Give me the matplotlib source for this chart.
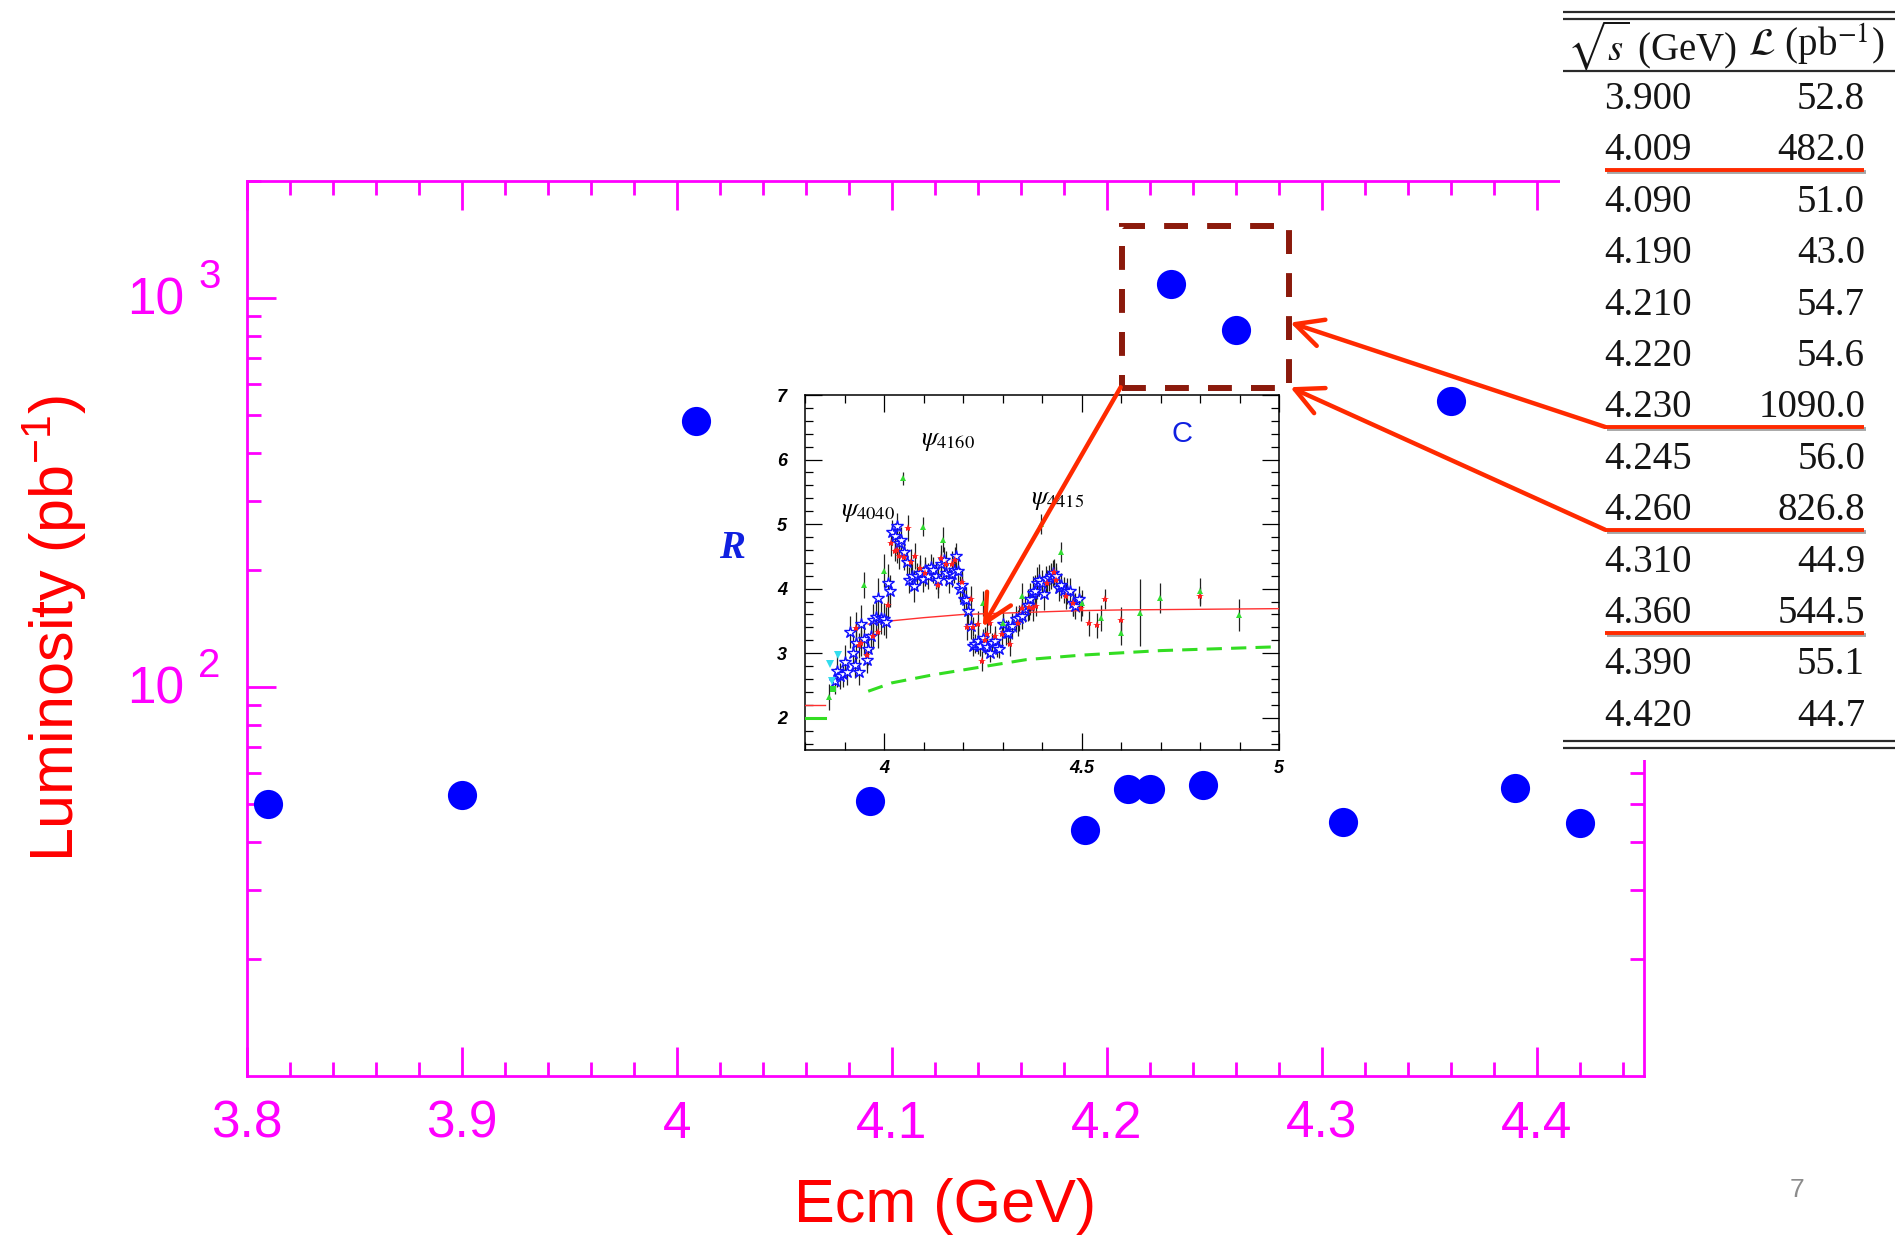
import matplotlib.pyplot as plt
import matplotlib.patheffects as pe
import numpy as np
from matplotlib.patches import Rectangle, ConnectionPatch
from matplotlib.ticker import (FixedLocator, MultipleLocator, LogLocator,
                               FuncFormatter, NullFormatter)

# luminosity table (sqrt(s) in GeV, integrated luminosity in pb^-1)
table_ecm = [3.900, 4.009, 4.090, 4.190, 4.210, 4.220, 4.230, 4.245, 4.260,
             4.310, 4.360, 4.390, 4.420]
table_lum = [52.8, 482.0, 51.0, 43.0, 54.7, 54.6, 1090.0, 56.0, 826.8,
             44.9, 544.5, 55.1, 44.7]
highlighted = [4.009, 4.230, 4.260, 4.360]
# scan point shown on the plot but not listed in the table
extra_ecm = [3.810]
extra_lum = [50.0]
lum_major = [100, 1000]

# R-value measurements for the inset
blue_x = [3.875, 3.882, 3.888, 3.896, 3.902, 3.907, 3.914, 3.921, 3.926, 3.930,
          3.936, 3.942, 3.949, 3.956, 3.960, 3.966, 3.973, 3.980, 3.986, 3.992,
          3.999, 4.005, 4.009, 4.014, 4.021, 4.027, 4.033, 4.039, 4.044, 4.050,
          4.057, 4.064, 4.070, 4.077, 4.084, 4.091, 4.098, 4.104, 4.111, 4.118,
          4.124, 4.131, 4.137, 4.145, 4.151, 4.158, 4.164, 4.171, 4.177, 4.182,
          4.187, 4.193, 4.198, 4.203, 4.208, 4.213, 4.219, 4.226, 4.231, 4.237,
          4.244, 4.250, 4.256, 4.262, 4.268, 4.274, 4.280, 4.286, 4.292, 4.301,
          4.309, 4.315, 4.325, 4.335, 4.342, 4.350, 4.357, 4.364, 4.370, 4.376,
          4.383, 4.388, 4.393, 4.400, 4.405, 4.410, 4.417, 4.422, 4.428, 4.436,
          4.442, 4.447, 4.455, 4.463, 4.471, 4.478, 4.484, 4.494]
blue_y = [2.57, 2.73, 2.65, 2.68, 2.87, 2.71, 3.33, 3.01, 2.81, 3.16,
          2.71, 3.45, 3.22, 2.90, 3.07, 3.27, 3.51, 3.56, 3.86, 3.55,
          3.53, 3.48, 4.08, 3.96, 4.87, 4.82, 4.97, 4.70, 4.75, 4.57,
          4.42, 4.14, 4.20, 4.04, 4.19, 4.25, 4.15, 4.29, 4.19, 4.34,
          4.29, 4.20, 4.13, 4.38, 4.44, 4.24, 4.14, 4.22, 4.29, 4.51,
          4.27, 3.99, 4.05, 3.84, 3.83, 3.65, 3.42, 3.11, 3.15, 3.19,
          3.11, 3.23, 3.14, 3.09, 3.01, 3.16, 3.19, 3.09, 3.07, 3.45,
          3.32, 3.32, 3.42, 3.53, 3.55, 3.57, 3.69, 3.75, 3.84, 3.94,
          3.96, 4.09, 4.13, 4.09, 3.92, 4.15, 4.16, 4.19, 4.24, 4.20,
          4.01, 4.05, 3.98, 3.96, 3.96, 3.78, 3.73, 3.84]
blue_err = [0.20, 0.25, 0.20, 0.20, 0.25, 0.20, 0.25, 0.25, 0.20, 0.30,
            0.20, 0.30, 0.25, 0.20, 0.25, 0.25, 0.25, 0.25, 0.30, 0.25,
            0.25, 0.25, 0.30, 0.25, 0.20, 0.20, 0.20, 0.20, 0.20, 0.20,
            0.20, 0.20, 0.20, 0.25, 0.20, 0.20, 0.20, 0.20, 0.20, 0.20,
            0.20, 0.20, 0.20, 0.20, 0.20, 0.20, 0.20, 0.20, 0.20, 0.20,
            0.20, 0.20, 0.20, 0.20, 0.20, 0.20, 0.20, 0.15, 0.15, 0.20,
            0.15, 0.15, 0.15, 0.15, 0.15, 0.15, 0.15, 0.15, 0.15, 0.20,
            0.20, 0.20, 0.20, 0.20, 0.20, 0.20, 0.20, 0.25, 0.25, 0.25,
            0.25, 0.25, 0.25, 0.20, 0.25, 0.20, 0.20, 0.20, 0.20, 0.20,
            0.20, 0.20, 0.20, 0.20, 0.20, 0.20, 0.20, 0.20]

red_x = [3.930, 3.936, 3.942, 3.956, 3.973, 3.986, 4.009, 4.018, 4.027, 4.033,
         4.039, 4.050, 4.060, 4.068, 4.079, 4.091, 4.104, 4.137, 4.145, 4.158,
         4.171, 4.180, 4.197, 4.209, 4.219, 4.226, 4.238, 4.248, 4.255, 4.262,
         4.269, 4.280, 4.298, 4.318, 4.338, 4.349, 4.368, 4.378, 4.386, 4.412,
         4.431, 4.436, 4.460, 4.479, 4.499, 4.520, 4.539, 4.559, 4.600, 4.799]
red_y = [3.39, 3.12, 3.16, 2.97, 3.26, 3.33, 3.75, 4.70, 4.58, 4.60,
         4.50, 4.49, 4.94, 4.41, 4.51, 4.32, 4.24, 4.06, 4.47, 4.38,
         4.38, 4.45, 4.11, 3.41, 3.84, 3.41, 3.45, 2.88, 3.21, 3.29,
         3.47, 3.27, 3.30, 3.15, 3.47, 3.70, 3.72, 3.70, 3.73, 4.09,
         4.26, 4.13, 3.88, 3.77, 3.70, 3.46, 3.43, 3.84, 3.52, 3.88]
red_err = [0.25, 0.20, 0.20, 0.20, 0.20, 0.25, 0.20, 0.20, 0.15, 0.20,
           0.20, 0.20, 0.20, 0.20, 0.20, 0.20, 0.20, 0.20, 0.20, 0.20,
           0.20, 0.20, 0.20, 0.20, 0.20, 0.15, 0.20, 0.15, 0.20, 0.20,
           0.15, 0.15, 0.20, 0.20, 0.20, 0.20, 0.20, 0.20, 0.15, 0.20,
           0.20, 0.20, 0.20, 0.20, 0.20, 0.20, 0.20, 0.15, 0.20, 0.15]

green_x = [3.862, 3.949, 3.999, 4.048, 4.099, 4.149, 4.250, 4.301, 4.349, 4.397,
           4.448, 4.500, 4.549, 4.600, 4.648, 4.699, 4.799, 4.899]
green_y = [2.32, 4.06, 4.28, 5.71, 4.96, 4.76, 3.77, 3.46, 3.89, 5.00,
           4.57, 3.78, 3.55, 3.32, 3.63, 3.85, 3.96, 3.59]
green_err = [0.20, 0.20, 0.25, 0.10, 0.15, 0.20, 0.20, 0.15, 0.20, 0.15,
             0.15, 0.20, 0.20, 0.20, 0.52, 0.23, 0.20, 0.25]
green_sq_x = [3.872]
green_sq_y = [2.45]

cyan_x = [3.864, 3.869, 3.884]
cyan_y = [2.83, 2.57, 2.97]

# theory curves
pqcd_low_x = [3.80, 3.85]
pqcd_low_y = [2.20, 2.20]
pqcd_x = [3.96, 4.0, 4.1, 4.2, 4.3, 4.4, 4.5, 4.6, 4.8, 5.0]
pqcd_y = [3.45, 3.49, 3.55, 3.60, 3.62, 3.64, 3.66, 3.67, 3.68, 3.69]
parton_low_x = [3.80, 3.85]
parton_low_y = [2.00, 2.00]
parton_x = [3.96, 4.02, 4.12, 4.21, 4.36, 4.5, 4.7, 5.0]
parton_y = [2.41, 2.54, 2.66, 2.75, 2.90, 2.97, 3.04, 3.10]

psi_labels = [(3.891, 5.19, '4040'), (4.094, 6.29, '4160'), (4.373, 5.37, '4415')]

plt.rcParams['font.family'] = 'Liberation Sans'
plt.rcParams['mathtext.fontset'] = 'custom'
plt.rcParams['mathtext.rm'] = 'Liberation Sans'
plt.rcParams['mathtext.it'] = 'Liberation Sans:italic'
plt.rcParams['mathtext.bf'] = 'Liberation Sans:bold'

W, H = 1895, 1235
fig = plt.figure(figsize=(W / 100, H / 100), dpi=100)


def fig_box(x0, y0, x1, y1):
    # pixel box (top-left origin) -> figure fraction rect
    return [x0 / W, 1 - y1 / H, (x1 - x0) / W, (y1 - y0) / H]


MAG = '#FF00FF'
RED = '#FF2A00'

# ---- main luminosity plot ----
ax = fig.add_axes(fig_box(247, 181, 1644, 1076))
ax.plot(extra_ecm + table_ecm, extra_lum + table_lum, 'o', color='#0000FF',
        markersize=21, markeredgewidth=0, zorder=3)
ax.set_yscale('log')
ax.set_xlim(3.8, 4.45)
ax.set_ylim(10, 2000)

ax.xaxis.set_major_locator(MultipleLocator(0.1))
ax.xaxis.set_minor_locator(MultipleLocator(0.02))
ax.xaxis.set_major_formatter(FuncFormatter(lambda v, p: f'{v:g}'))
ax.yaxis.set_major_locator(FixedLocator(lum_major))
ax.yaxis.set_minor_locator(LogLocator(base=10, subs=np.arange(2, 10)))
ax.yaxis.set_minor_formatter(NullFormatter())
ax.yaxis.set_major_formatter(NullFormatter())

ax.tick_params(which='both', direction='in', top=True, right=True,
               color=MAG, width=2.0, labelcolor=MAG)
ax.tick_params(which='major', length=21)
ax.tick_params(which='minor', length=10)
ax.tick_params(axis='x', which='major', labelsize=37, pad=17)
for s in ax.spines.values():
    s.set_color(MAG)
    s.set_linewidth(2.0)

# power-of-ten labels with a large, spaced exponent
for v in lum_major:
    ax.annotate('10', xy=(0, v), xycoords=('axes fraction', 'data'),
                xytext=(-45, -2), textcoords='offset points', ha='right',
                va='center', fontsize=37, color=MAG)
    ax.annotate(f'{round(np.log10(v))}', xy=(0, v),
                xycoords=('axes fraction', 'data'), xytext=(-35, 15.5),
                textcoords='offset points', ha='left', va='center',
                fontsize=29, color=MAG)

ax.set_xlabel('Ecm (GeV)', fontsize=44, color='red')
ax.xaxis.set_label_coords(0.5, -0.146)
ax.xaxis.label.set_va('center')
ax.set_ylabel(r'Luminosity (pb$^{-1}$)', fontsize=44, color='red')
ax.yaxis.set_label_coords(-0.138, 0.5)
ax.yaxis.label.set_va('center')

# highlight box around the two high-luminosity points
ax.add_patch(Rectangle((4.207, 588), 0.078, 1530 - 588, fill=False,
                       edgecolor='#8B1A0C', linewidth=4.3,
                       linestyle=(0, (4.0, 3.2)), zorder=4))

# ---- inset: R values ----
ax_in = fig.add_axes(fig_box(805, 395, 1279, 750), zorder=3)
ax_in.set_facecolor('white')
ax_in.set_xlim(3.8, 5.0)
ax_in.set_ylim(1.5, 7)
tick_font = dict(fontsize=13, fontweight='bold', fontstyle='italic')
ax_in.set_xticks([4, 4.5, 5], labels=['4', '4.5', '5'], **tick_font)
ax_in.set_yticks([2, 3, 4, 5, 6, 7], labels=['2', '3', '4', '5', '6', '7'], **tick_font)
ax_in.xaxis.set_minor_locator(MultipleLocator(0.1))
ax_in.yaxis.set_minor_locator(MultipleLocator(0.2))
ax_in.tick_params(which='both', direction='in', top=True, right=True,
                  width=0.9, color='black')
ax_in.tick_params(which='major', length=12)
ax_in.tick_params(which='minor', length=6)
ax_in.tick_params(axis='x', pad=7)
ax_in.tick_params(axis='y', pad=13)
for s in ax_in.spines.values():
    s.set_linewidth(1.1)

ax_in.plot(pqcd_low_x, pqcd_low_y, color='#FF3030', lw=1.0, zorder=3)
ax_in.plot(pqcd_x, pqcd_y, color='#FF3030', lw=1.0, zorder=3)
ax_in.plot(parton_low_x, parton_low_y, color='#33DD22', lw=2.2, zorder=3)
ax_in.plot(parton_x, parton_y, color='#33DD22', lw=2.2, dashes=(5, 3), zorder=3)

err_kw = dict(fmt='none', ecolor='#222222', elinewidth=0.9, zorder=2)
ax_in.errorbar(blue_x, blue_y, yerr=blue_err, **err_kw)
ax_in.errorbar(red_x, red_y, yerr=red_err, **err_kw)
ax_in.errorbar(green_x, green_y, yerr=green_err, **err_kw)

ax_in.plot(blue_x, blue_y, ls='none', marker='*', markersize=9,
           markerfacecolor='white', markeredgecolor='#1010FF',
           markeredgewidth=1.0, zorder=4)
ax_in.plot(red_x, red_y, ls='none', marker='*', markersize=6,
           color='#FF2020', markeredgewidth=0, zorder=5)
ax_in.plot(green_x, green_y, ls='none', marker='^', markersize=4.5,
           color='#33DD33', markeredgewidth=0, zorder=5)
ax_in.plot(green_sq_x, green_sq_y, ls='none', marker='s', markersize=5,
           color='#33DD33', markeredgewidth=0, zorder=5)
ax_in.plot(cyan_x, cyan_y, ls='none', marker='v', markersize=6,
           color='#33DDEE', markeredgewidth=0, zorder=5)

for x, y, name in psi_labels:
    ax_in.text(x, y, r'$\psi_{%s}$' % name, math_fontfamily='stix',
               fontsize=19, ha='left', va='center', zorder=6)
ax_in.text(4.754, 6.39, 'C', color='#1020E0', fontsize=21, ha='center',
           va='center')
fig.text(732 / W, 1 - 549 / H, 'R', color='#1020E0', fontsize=28,
         family='Liberation Serif', fontweight='bold', fontstyle='italic',
         ha='center', va='center')

# ---- luminosity table (axes in pixel units) ----
ax_t = fig.add_axes(fig_box(1560, 0, 1895, 760), zorder=5)
ax_t.set_xlim(1560, 1895)
ax_t.set_ylim(760, 0)
ax_t.set_xticks([])
ax_t.set_yticks([])
for s in ax_t.spines.values():
    s.set_visible(False)
ax_t.set_facecolor('white')

serif = dict(family='Liberation Serif', fontsize=28, color='#151515')
rule_kw = dict(color='#2A2A2A', lw=1.6, solid_capstyle='butt')
for yy in (12, 19, 71, 741, 748):
    ax_t.plot([1563, 1895], [yy, yy], **rule_kw)
ax_t.text(1652, 45, r'$\sqrt{s}$ (GeV)', math_fontfamily='stix',
          ha='center', va='center', **serif)
ax_t.text(1884, 45, r'$\mathcal{L}$ (pb$^{-1}$)', math_fontfamily='stix',
          ha='right', va='center', **serif)

shadow = [pe.SimpleLineShadow(offset=(1.2, -1.5), alpha=0.35), pe.Normal()]


def row_y(i):
    return 99.5 + 51.4 * i


for i, (e, lum) in enumerate(zip(table_ecm, table_lum)):
    ax_t.text(1648, row_y(i), f'{e:.3f}', ha='center', va='center', **serif)
    ax_t.text(1865, row_y(i), f'{lum:.1f}', ha='right', va='center', **serif)
    if e in highlighted:
        ax_t.plot([1605, 1864], [row_y(i) + 19] * 2, color=RED, lw=2.8,
                  solid_capstyle='butt', path_effects=shadow)

# ---- arrows ----
arrow_kw = dict(arrowstyle='->,head_length=0.9,head_width=0.45', color=RED,
                linewidth=3.2, mutation_scale=22, zorder=10)
i230 = table_ecm.index(4.230)
i260 = table_ecm.index(4.260)
fig.add_artist(ConnectionPatch((1605, row_y(i230) + 19), (4.2854, 865),
                               coordsA=ax_t.transData, coordsB=ax.transData,
                               **arrow_kw))
fig.add_artist(ConnectionPatch((1605, row_y(i260) + 19), (4.2854, 590),
                               coordsA=ax_t.transData, coordsB=ax.transData,
                               **arrow_kw))
fig.add_artist(ConnectionPatch((4.2065, 590), (4.25, 3.41),
                               coordsA=ax.transData, coordsB=ax_in.transData,
                               **arrow_kw))

fig.text(1797 / W, 1 - 1190 / H, '7', color='#8C8C8C', fontsize=19,
         ha='center', va='center')

fig.savefig('out.png', dpi=100)
